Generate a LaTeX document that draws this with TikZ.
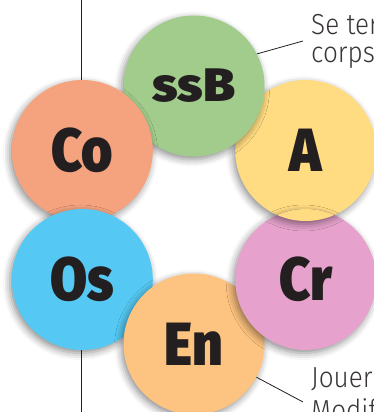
\documentclass[tikz,border=0pt]{standalone}
\usepackage{fontspec}
\usetikzlibrary{shadows.blur}
\newfontfamily\bubblefont{Fira Sans}[UprightFont=* Black,FakeStretch=0.88]
\newfontfamily\widefont{Fira Sans}[UprightFont=* Black,FakeStretch=1.1]
\newfontfamily\notefont{Fira Sans}[UprightFont=* Light,FakeStretch=0.9]
\definecolor{ink}{HTML}{231F20}
\definecolor{sage}{HTML}{A2CC8C}
\definecolor{salmon}{HTML}{F5A27E}
\definecolor{butter}{HTML}{FFDC82}
\definecolor{orchid}{HTML}{E6A2CC}
\definecolor{sky}{HTML}{55C9F4}
\definecolor{apricot}{HTML}{FDC380}
\tikzset{bubble/.style={circle,minimum size=141pt,inner sep=0pt,text=ink,font=\bubblefont\fontsize{61}{61}\selectfont,blur shadow={shadow xshift=-2pt,shadow yshift=-3pt,shadow blur radius=7pt,shadow opacity=45}},leader/.style={draw=ink,line width=.8pt},note/.style={font=\notefont\fontsize{29}{29}\selectfont,text=ink!90,inner sep=0pt,anchor=base west}}

\begin{document}
\begin{tikzpicture}[x=1pt,y=1pt]
\useasboundingbox (0,0) rectangle (374,412);
\clip (0,0) rectangle (374,412);
\coordinate (ruletop) at (81,412);\coordinate (rulebot) at (81,0);
\draw[ink,line width=.9pt] (ruletop)--(rulebot);
\coordinate (hub) at (194,197);
\foreach \n/\a/\c in {A/30/butter,ssB/90/sage,Co/150/salmon,Os/210/sky,En/270/apricot,Cr/330/orchid}{
  \node[bubble,fill=\c] (\n) at ([shift={(\a:129)}]hub) {\ifnum\a=90 \widefont\fontsize{47}{47}\selectfont\fi\n};}
% A lies over Cr
\begin{scope}
\clip (Cr) circle (70.5);
\node[bubble,fill=butter] (Aover) at (A) {A};
\end{scope}
\coordinate (topnote) at (303,371);\coordinate (botnote) at (303,10);
\draw[leader] (ssB.27)--(topnote);
\draw[leader] (En.-28)--(botnote);
\node[note] (seter) at (311,377) {Se ter};
\node[note] (corps) at (311,349) {corps};
\node[note] (jouer) at (311,24) {Jouer};
\node[note] (modif) at (311,-9) {Modif};
\end{tikzpicture}
\end{document}
